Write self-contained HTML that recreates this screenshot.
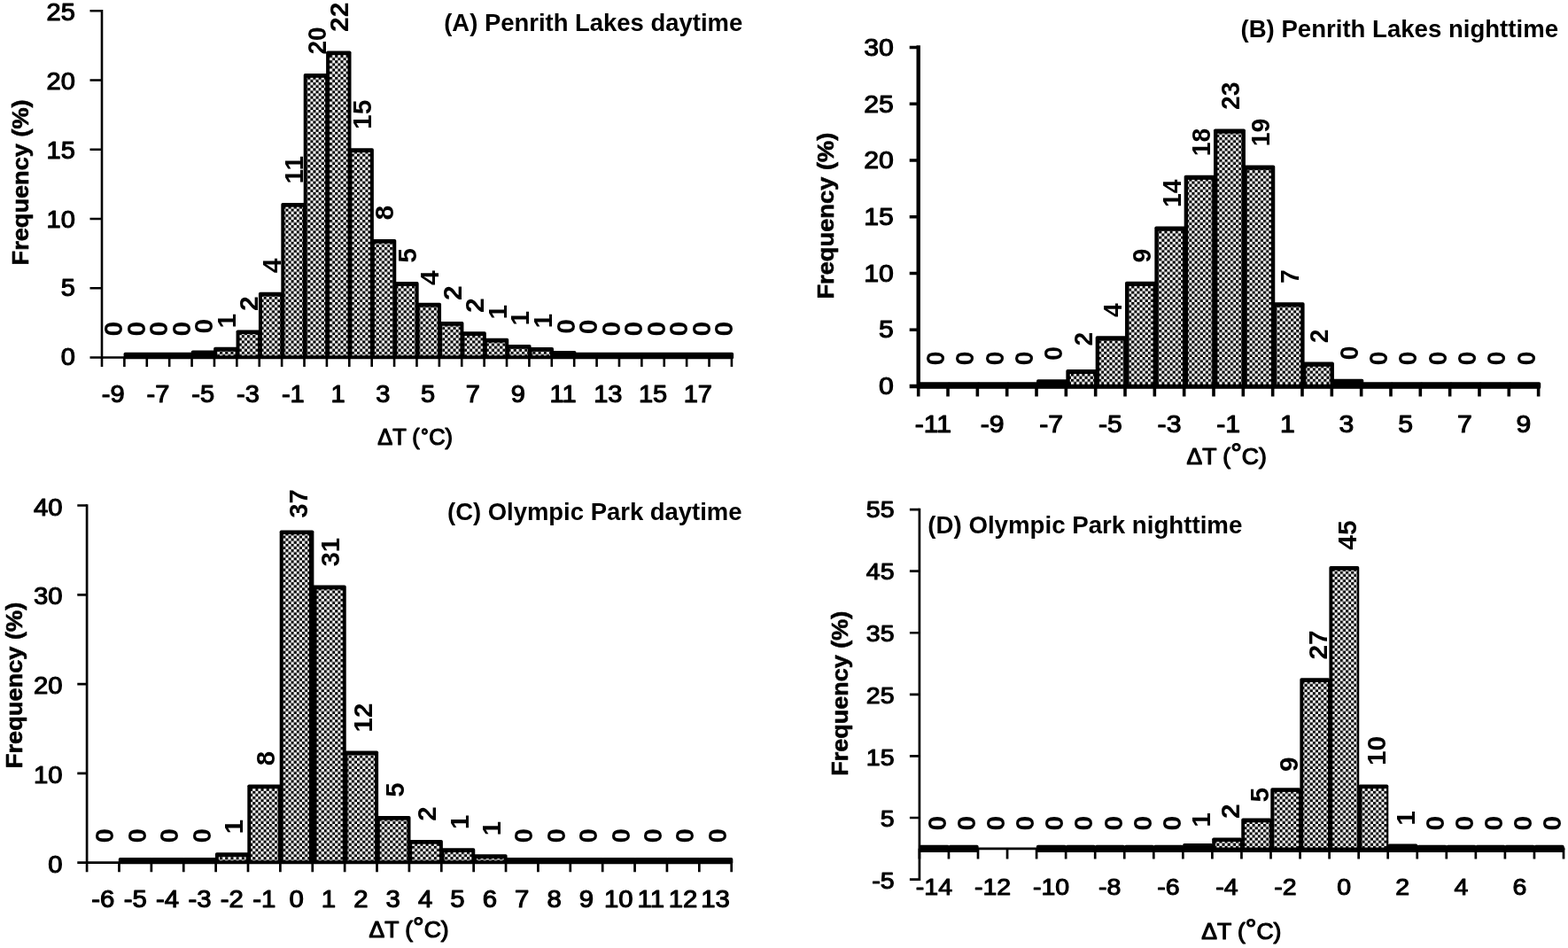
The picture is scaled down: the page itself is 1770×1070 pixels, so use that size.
<!DOCTYPE html>
<html lang="en"><head><meta charset="utf-8"><title>Frequency distributions of ΔT</title>
<style>html,body{margin:0;padding:0;background:#fff}body{width:1770px;height:1070px;overflow:hidden}svg{display:block}text{font-family:"Liberation Sans", sans-serif;fill:#000;stroke:#000;stroke-linejoin:round}.t{font-weight:400;font-size:27.4px;stroke-width:1.1px}.d{font-weight:700;font-size:28.6px;stroke:none}.h{font-weight:700;font-size:27.3px;stroke:none}.x{font-weight:400;font-size:25px;stroke-width:1.15px}.y{font-weight:700;font-size:26.4px;stroke-width:.6px}</style>
</head><body>
<svg width="1770" height="1070" viewBox="0 0 1770 1070">
<defs><pattern id="chk" patternUnits="userSpaceOnUse" x="0" y="0" width="6.2" height="6.2"><rect width="6.2" height="6.2" fill="#fff"/><rect width="3.1" height="3.1" fill="#000"/><rect x="3.1" y="3.1" width="3.1" height="3.1" fill="#000"/></pattern></defs>
<rect width="1770" height="1070" fill="#fff"/>
<g>
<rect x="139.59" y="397.7" width="28.39" height="7.6" rx="1.8" fill="#000"/>
<rect x="164.98" y="397.7" width="28.39" height="7.6" rx="1.8" fill="#000"/>
<rect x="190.37" y="397.7" width="28.39" height="7.6" rx="1.8" fill="#000"/>
<rect x="215.76" y="395.6" width="28.39" height="9.7" rx="1.8" fill="#000"/>
<rect x="241.15" y="391.8" width="28.39" height="13.5" rx="1.8" fill="#000"/>
<rect x="245.15" y="396.6" width="20.39" height="4.7" fill="url(#chk)"/>
<rect x="266.54" y="372.4" width="28.39" height="32.9" rx="1.8" fill="#000"/>
<rect x="270.54" y="377.2" width="20.39" height="24.1" fill="url(#chk)"/>
<rect x="291.93" y="329.7" width="28.39" height="75.6" rx="1.8" fill="#000"/>
<rect x="295.93" y="334.5" width="20.39" height="66.8" fill="url(#chk)"/>
<rect x="317.32" y="228.9" width="28.39" height="176.4" rx="1.8" fill="#000"/>
<rect x="321.32" y="233.7" width="20.39" height="167.6" fill="url(#chk)"/>
<rect x="342.71" y="83" width="28.39" height="322.3" rx="1.8" fill="#000"/>
<rect x="346.71" y="87.8" width="20.39" height="313.5" fill="url(#chk)"/>
<rect x="368.1" y="57.4" width="28.39" height="347.9" rx="1.8" fill="#000"/>
<rect x="372.1" y="62.2" width="20.39" height="339.1" fill="url(#chk)"/>
<rect x="393.49" y="167.3" width="28.39" height="238" rx="1.8" fill="#000"/>
<rect x="397.49" y="172.1" width="20.39" height="229.2" fill="url(#chk)"/>
<rect x="418.88" y="269.9" width="28.39" height="135.4" rx="1.8" fill="#000"/>
<rect x="422.88" y="274.7" width="20.39" height="126.6" fill="url(#chk)"/>
<rect x="444.27" y="318.1" width="28.39" height="87.2" rx="1.8" fill="#000"/>
<rect x="448.27" y="322.9" width="20.39" height="78.4" fill="url(#chk)"/>
<rect x="469.66" y="341.8" width="28.39" height="63.5" rx="1.8" fill="#000"/>
<rect x="473.66" y="346.6" width="20.39" height="54.7" fill="url(#chk)"/>
<rect x="495.05" y="363" width="28.39" height="42.3" rx="1.8" fill="#000"/>
<rect x="499.05" y="367.8" width="20.39" height="33.5" fill="url(#chk)"/>
<rect x="520.44" y="374.3" width="28.39" height="31" rx="1.8" fill="#000"/>
<rect x="524.44" y="379.1" width="20.39" height="22.2" fill="url(#chk)"/>
<rect x="545.83" y="381.8" width="28.39" height="23.5" rx="1.8" fill="#000"/>
<rect x="549.83" y="386.6" width="20.39" height="14.7" fill="url(#chk)"/>
<rect x="571.22" y="388.9" width="28.39" height="16.4" rx="1.8" fill="#000"/>
<rect x="575.22" y="393.7" width="20.39" height="7.6" fill="url(#chk)"/>
<rect x="596.61" y="392" width="28.39" height="13.3" rx="1.8" fill="#000"/>
<rect x="600.61" y="396.8" width="20.39" height="4.5" fill="url(#chk)"/>
<rect x="622" y="396" width="28.39" height="9.3" rx="1.8" fill="#000"/>
<rect x="647.39" y="397.7" width="28.39" height="7.6" rx="1.8" fill="#000"/>
<rect x="672.78" y="397.7" width="28.39" height="7.6" rx="1.8" fill="#000"/>
<rect x="698.17" y="397.7" width="28.39" height="7.6" rx="1.8" fill="#000"/>
<rect x="723.56" y="397.7" width="28.39" height="7.6" rx="1.8" fill="#000"/>
<rect x="748.95" y="397.7" width="28.39" height="7.6" rx="1.8" fill="#000"/>
<rect x="774.34" y="397.7" width="28.39" height="7.6" rx="1.8" fill="#000"/>
<rect x="799.73" y="397.7" width="28.39" height="7.6" rx="1.8" fill="#000"/>
<path d="M115 12.3V403.5" stroke="#000" stroke-width="2.6" fill="none" stroke-linecap="square"/>
<path d="M101.5 403.5H827.22" stroke="#000" stroke-width="2.6" fill="none"/>
<path d="M101.5 325.26H115M101.5 247.02H115M101.5 168.78H115M101.5 90.54H115M101.5 12.3H115M115 403.5V414M140.39 403.5V414M165.78 403.5V414M191.17 403.5V414M216.56 403.5V414M241.95 403.5V414M267.34 403.5V414M292.73 403.5V414M318.12 403.5V414M343.51 403.5V414M368.9 403.5V414M394.29 403.5V414M419.68 403.5V414M445.07 403.5V414M470.46 403.5V414M495.85 403.5V414M521.24 403.5V414M546.63 403.5V414M572.02 403.5V414M597.41 403.5V414M622.8 403.5V414M648.19 403.5V414M673.58 403.5V414M698.97 403.5V414M724.36 403.5V414M749.75 403.5V414M775.14 403.5V414M800.53 403.5V414M825.92 403.5V414" stroke="#000" stroke-width="2.6" fill="none"/>
<text class="t" transform="translate(84.9 412.3) scale(1.06 1)" text-anchor="end">0</text>
<text class="t" transform="translate(84.9 334.48) scale(1.06 1)" text-anchor="end">5</text>
<text class="t" transform="translate(84.9 256.66) scale(1.06 1)" text-anchor="end">10</text>
<text class="t" transform="translate(84.9 178.84) scale(1.06 1)" text-anchor="end">15</text>
<text class="t" transform="translate(84.9 101.02) scale(1.06 1)" text-anchor="end">20</text>
<text class="t" transform="translate(84.9 23.2) scale(1.06 1)" text-anchor="end">25</text>
<text class="t" transform="translate(127.69 454.3) scale(1.06 1)" text-anchor="middle">-9</text>
<text class="t" transform="translate(178.47 454.3) scale(1.06 1)" text-anchor="middle">-7</text>
<text class="t" transform="translate(229.25 454.3) scale(1.06 1)" text-anchor="middle">-5</text>
<text class="t" transform="translate(280.03 454.3) scale(1.06 1)" text-anchor="middle">-3</text>
<text class="t" transform="translate(330.81 454.3) scale(1.06 1)" text-anchor="middle">-1</text>
<text class="t" transform="translate(381.6 454.3) scale(1.06 1)" text-anchor="middle">1</text>
<text class="t" transform="translate(432.38 454.3) scale(1.06 1)" text-anchor="middle">3</text>
<text class="t" transform="translate(483.16 454.3) scale(1.06 1)" text-anchor="middle">5</text>
<text class="t" transform="translate(533.93 454.3) scale(1.06 1)" text-anchor="middle">7</text>
<text class="t" transform="translate(584.72 454.3) scale(1.06 1)" text-anchor="middle">9</text>
<text class="t" transform="translate(635.5 454.3) scale(1.06 1)" text-anchor="middle">11</text>
<text class="t" transform="translate(686.27 454.3) scale(1.06 1)" text-anchor="middle">13</text>
<text class="t" transform="translate(737.06 454.3) scale(1.06 1)" text-anchor="middle">15</text>
<text class="t" transform="translate(787.84 454.3) scale(1.06 1)" text-anchor="middle">17</text>
<text class="d" transform="translate(138.29 379.6) rotate(-90) scale(1.05 1)">0</text>
<text class="d" transform="translate(163.81 379.6) rotate(-90) scale(1.05 1)">0</text>
<text class="d" transform="translate(189.31 379.6) rotate(-90) scale(1.05 1)">0</text>
<text class="d" transform="translate(214.83 379.6) rotate(-90) scale(1.05 1)">0</text>
<text class="d" transform="translate(240.33 376.4) rotate(-90) scale(1.05 1)">0</text>
<text class="d" transform="translate(265.85 370.4) rotate(-90) scale(1.05 1)">1</text>
<text class="d" transform="translate(291.36 351) rotate(-90) scale(1.05 1)">2</text>
<text class="d" transform="translate(316.87 308.3) rotate(-90) scale(1.05 1)">4</text>
<text class="d" transform="translate(342.38 207.5) rotate(-90) scale(1.05 1)">11</text>
<text class="d" transform="translate(367.89 61.6) rotate(-90) scale(0.98 1)">20</text>
<text class="d" transform="translate(393.4 36) rotate(-90) scale(1.05 1)">22</text>
<text class="d" transform="translate(418.91 145.9) rotate(-90) scale(1.05 1)">15</text>
<text class="d" transform="translate(444.42 248.5) rotate(-90) scale(1.05 1)">8</text>
<text class="d" transform="translate(469.93 296.7) rotate(-90) scale(1.05 1)">5</text>
<text class="d" transform="translate(495.44 321.9) rotate(-90) scale(1.05 1)">4</text>
<text class="d" transform="translate(520.94 339.1) rotate(-90) scale(1.05 1)">2</text>
<text class="d" transform="translate(546.45 352.9) rotate(-90) scale(1.05 1)">2</text>
<text class="d" transform="translate(571.97 360.4) rotate(-90) scale(1.05 1)">1</text>
<text class="d" transform="translate(597.48 367.5) rotate(-90) scale(1.05 1)">1</text>
<text class="d" transform="translate(622.99 370.6) rotate(-90) scale(1.05 1)">1</text>
<text class="d" transform="translate(648.5 376.8) rotate(-90) scale(1.05 1)">0</text>
<text class="d" transform="translate(674 377.3) rotate(-90) scale(1.05 1)">0</text>
<text class="d" transform="translate(699.51 379.6) rotate(-90) scale(1.05 1)">0</text>
<text class="d" transform="translate(725.02 379.6) rotate(-90) scale(1.05 1)">0</text>
<text class="d" transform="translate(750.54 379.6) rotate(-90) scale(1.05 1)">0</text>
<text class="d" transform="translate(776.05 379.6) rotate(-90) scale(1.05 1)">0</text>
<text class="d" transform="translate(801.56 379.6) rotate(-90) scale(1.05 1)">0</text>
<text class="d" transform="translate(827.07 379.6) rotate(-90) scale(1.05 1)">0</text>
<text class="h" transform="translate(501.2 35)" textLength="337" lengthAdjust="spacingAndGlyphs">(A) Penrith Lakes daytime</text>
<text class="x" transform="translate(426.3 502.2)" textLength="84.7" lengthAdjust="spacingAndGlyphs">ΔT (<tspan dx="2" dy="2.7">˚</tspan><tspan dy="-2.7">C)</tspan></text>
<text class="y" transform="translate(32.1 299.4) rotate(-90)" textLength="187" lengthAdjust="spacingAndGlyphs">Frequency (%)</text>
</g>
<g>
<rect x="1036.7" y="431.2" width="35.93" height="7.6" rx="1.8" fill="#000"/>
<rect x="1070.03" y="431.2" width="35.93" height="7.6" rx="1.8" fill="#000"/>
<rect x="1103.36" y="431.2" width="35.93" height="7.6" rx="1.8" fill="#000"/>
<rect x="1136.69" y="431.2" width="35.93" height="7.6" rx="1.8" fill="#000"/>
<rect x="1170.02" y="428.2" width="35.93" height="10.6" rx="1.8" fill="#000"/>
<rect x="1203.35" y="416.9" width="35.93" height="21.9" rx="1.8" fill="#000"/>
<rect x="1207.75" y="422.1" width="27.13" height="12.3" fill="url(#chk)"/>
<rect x="1236.68" y="379.3" width="35.93" height="59.5" rx="1.8" fill="#000"/>
<rect x="1241.08" y="384.5" width="27.13" height="49.9" fill="url(#chk)"/>
<rect x="1270.01" y="317.8" width="35.93" height="121" rx="1.8" fill="#000"/>
<rect x="1274.41" y="323" width="27.13" height="111.4" fill="url(#chk)"/>
<rect x="1303.34" y="255.5" width="35.93" height="183.3" rx="1.8" fill="#000"/>
<rect x="1307.74" y="260.7" width="27.13" height="173.7" fill="url(#chk)"/>
<rect x="1336.67" y="197.7" width="35.93" height="241.1" rx="1.8" fill="#000"/>
<rect x="1341.07" y="202.9" width="27.13" height="231.5" fill="url(#chk)"/>
<rect x="1370" y="145.5" width="35.93" height="293.3" rx="1.8" fill="#000"/>
<rect x="1374.4" y="150.7" width="27.13" height="283.7" fill="url(#chk)"/>
<rect x="1403.33" y="186.6" width="35.93" height="252.2" rx="1.8" fill="#000"/>
<rect x="1407.73" y="191.8" width="27.13" height="242.6" fill="url(#chk)"/>
<rect x="1436.66" y="341.3" width="35.93" height="97.5" rx="1.8" fill="#000"/>
<rect x="1441.06" y="346.5" width="27.13" height="87.9" fill="url(#chk)"/>
<rect x="1469.99" y="408.6" width="35.93" height="30.2" rx="1.8" fill="#000"/>
<rect x="1474.39" y="413.8" width="27.13" height="20.6" fill="url(#chk)"/>
<rect x="1503.32" y="427.7" width="35.93" height="11.1" rx="1.8" fill="#000"/>
<rect x="1536.65" y="431.2" width="35.93" height="7.6" rx="1.8" fill="#000"/>
<rect x="1569.98" y="431.2" width="35.93" height="7.6" rx="1.8" fill="#000"/>
<rect x="1603.31" y="431.2" width="35.93" height="7.6" rx="1.8" fill="#000"/>
<rect x="1636.64" y="431.2" width="35.93" height="7.6" rx="1.8" fill="#000"/>
<rect x="1669.97" y="431.2" width="35.93" height="7.6" rx="1.8" fill="#000"/>
<rect x="1703.3" y="431.2" width="35.93" height="7.6" rx="1.8" fill="#000"/>
<path d="M1036.7 53.5V436" stroke="#000" stroke-width="4.4" fill="none" stroke-linecap="square"/>
<path d="M1026.7 436H1738.83" stroke="#000" stroke-width="4.4" fill="none"/>
<path d="M1026.7 372.25H1036.7M1026.7 308.5H1036.7M1026.7 244.75H1036.7M1026.7 181H1036.7M1026.7 117.25H1036.7M1026.7 53.5H1036.7M1036.7 436V447.5M1070.03 436V447.5M1103.36 436V447.5M1136.69 436V447.5M1170.02 436V447.5M1203.35 436V447.5M1236.68 436V447.5M1270.01 436V447.5M1303.34 436V447.5M1336.67 436V447.5M1370 436V447.5M1403.33 436V447.5M1436.66 436V447.5M1469.99 436V447.5M1503.32 436V447.5M1536.65 436V447.5M1569.98 436V447.5M1603.31 436V447.5M1636.64 436V447.5M1669.97 436V447.5M1703.3 436V447.5M1736.63 436V447.5" stroke="#000" stroke-width="3.6" fill="none"/>
<text class="t" transform="translate(1008.8 445) scale(1.1 1)" text-anchor="end">0</text>
<text class="t" transform="translate(1008.8 381.37) scale(1.1 1)" text-anchor="end">5</text>
<text class="t" transform="translate(1008.8 317.73) scale(1.1 1)" text-anchor="end">10</text>
<text class="t" transform="translate(1008.8 254.1) scale(1.1 1)" text-anchor="end">15</text>
<text class="t" transform="translate(1008.8 190.47) scale(1.1 1)" text-anchor="end">20</text>
<text class="t" transform="translate(1008.8 126.83) scale(1.1 1)" text-anchor="end">25</text>
<text class="t" transform="translate(1008.8 63.2) scale(1.1 1)" text-anchor="end">30</text>
<text class="t" transform="translate(1053.37 487.8) scale(1.1 1)" text-anchor="middle">-11</text>
<text class="t" transform="translate(1120.03 487.8) scale(1.1 1)" text-anchor="middle">-9</text>
<text class="t" transform="translate(1186.68 487.8) scale(1.1 1)" text-anchor="middle">-7</text>
<text class="t" transform="translate(1253.35 487.8) scale(1.1 1)" text-anchor="middle">-5</text>
<text class="t" transform="translate(1320.01 487.8) scale(1.1 1)" text-anchor="middle">-3</text>
<text class="t" transform="translate(1386.66 487.8) scale(1.1 1)" text-anchor="middle">-1</text>
<text class="t" transform="translate(1453.33 487.8) scale(1.1 1)" text-anchor="middle">1</text>
<text class="t" transform="translate(1519.99 487.8) scale(1.1 1)" text-anchor="middle">3</text>
<text class="t" transform="translate(1586.64 487.8) scale(1.1 1)" text-anchor="middle">5</text>
<text class="t" transform="translate(1653.31 487.8) scale(1.1 1)" text-anchor="middle">7</text>
<text class="t" transform="translate(1719.97 487.8) scale(1.1 1)" text-anchor="middle">9</text>
<text class="d" transform="translate(1066.16 412.2) rotate(-90) scale(0.99 1)">0</text>
<text class="d" transform="translate(1099.49 412.2) rotate(-90) scale(0.99 1)">0</text>
<text class="d" transform="translate(1132.83 412.2) rotate(-90) scale(0.99 1)">0</text>
<text class="d" transform="translate(1166.15 412.2) rotate(-90) scale(0.99 1)">0</text>
<text class="d" transform="translate(1199.48 406.8) rotate(-90) scale(0.99 1)">0</text>
<text class="d" transform="translate(1232.82 390.5) rotate(-90) scale(0.99 1)">2</text>
<text class="d" transform="translate(1266.14 357.9) rotate(-90) scale(0.99 1)">4</text>
<text class="d" transform="translate(1299.47 296.4) rotate(-90) scale(0.99 1)">9</text>
<text class="d" transform="translate(1332.81 234.1) rotate(-90) scale(0.99 1)">14</text>
<text class="d" transform="translate(1366.13 176.3) rotate(-90) scale(0.99 1)">18</text>
<text class="d" transform="translate(1399.46 124.1) rotate(-90) scale(0.99 1)">23</text>
<text class="d" transform="translate(1432.79 165.2) rotate(-90) scale(0.99 1)">19</text>
<text class="d" transform="translate(1466.12 319.9) rotate(-90) scale(0.99 1)">7</text>
<text class="d" transform="translate(1499.45 387.2) rotate(-90) scale(0.99 1)">2</text>
<text class="d" transform="translate(1532.79 406.3) rotate(-90) scale(0.99 1)">0</text>
<text class="d" transform="translate(1566.12 412.2) rotate(-90) scale(0.99 1)">0</text>
<text class="d" transform="translate(1599.44 412.2) rotate(-90) scale(0.99 1)">0</text>
<text class="d" transform="translate(1632.77 412.2) rotate(-90) scale(0.99 1)">0</text>
<text class="d" transform="translate(1666.11 412.2) rotate(-90) scale(0.99 1)">0</text>
<text class="d" transform="translate(1699.43 412.2) rotate(-90) scale(0.99 1)">0</text>
<text class="d" transform="translate(1732.77 412.2) rotate(-90) scale(0.99 1)">0</text>
<text class="h" transform="translate(1400.5 41.6) scale(1 1.03)" textLength="358.5" lengthAdjust="spacingAndGlyphs">(B) Penrith Lakes nighttime</text>
<text class="x" transform="translate(1339.6 523.6)" textLength="90.2" lengthAdjust="spacingAndGlyphs">ΔT (<tspan dy="-2.5" font-size="30">°</tspan><tspan dy="2.5">C)</tspan></text>
<text class="y" transform="translate(941 337.6) rotate(-90)" textLength="188" lengthAdjust="spacingAndGlyphs">Frequency (%)</text>
</g>
<g>
<rect x="133.78" y="968" width="38.68" height="7.3" rx="1.8" fill="#000"/>
<rect x="170.16" y="968" width="38.68" height="7.3" rx="1.8" fill="#000"/>
<rect x="206.54" y="968" width="38.68" height="7.3" rx="1.8" fill="#000"/>
<rect x="242.92" y="962.3" width="38.68" height="13" rx="1.8" fill="#000"/>
<rect x="246.92" y="967.1" width="30.68" height="4.2" fill="url(#chk)"/>
<rect x="279.3" y="885.4" width="38.68" height="89.9" rx="1.8" fill="#000"/>
<rect x="283.3" y="890.2" width="30.68" height="81.1" fill="url(#chk)"/>
<rect x="315.68" y="598.4" width="38.68" height="376.9" rx="1.8" fill="#000"/>
<rect x="319.68" y="603.2" width="29.18" height="368.1" fill="url(#chk)"/>
<rect x="352.06" y="660.6" width="38.68" height="314.7" rx="1.8" fill="#000"/>
<rect x="357.56" y="665.4" width="29.18" height="305.9" fill="url(#chk)"/>
<rect x="388.44" y="847.5" width="38.68" height="127.8" rx="1.8" fill="#000"/>
<rect x="392.44" y="852.3" width="30.68" height="119" fill="url(#chk)"/>
<rect x="424.82" y="920.9" width="38.68" height="54.4" rx="1.8" fill="#000"/>
<rect x="428.82" y="925.7" width="30.68" height="45.6" fill="url(#chk)"/>
<rect x="461.2" y="947.9" width="38.68" height="27.4" rx="1.8" fill="#000"/>
<rect x="465.2" y="952.7" width="30.68" height="18.6" fill="url(#chk)"/>
<rect x="497.58" y="957.2" width="38.68" height="18.1" rx="1.8" fill="#000"/>
<rect x="501.58" y="962" width="30.68" height="9.3" fill="url(#chk)"/>
<rect x="533.96" y="964.3" width="38.68" height="11" rx="1.8" fill="#000"/>
<rect x="537.96" y="969.1" width="30.68" height="2.2" fill="url(#chk)"/>
<rect x="570.34" y="968" width="38.68" height="7.3" rx="1.8" fill="#000"/>
<rect x="606.72" y="968" width="38.68" height="7.3" rx="1.8" fill="#000"/>
<rect x="643.1" y="968" width="38.68" height="7.3" rx="1.8" fill="#000"/>
<rect x="679.48" y="968" width="38.68" height="7.3" rx="1.8" fill="#000"/>
<rect x="715.86" y="968" width="38.68" height="7.3" rx="1.8" fill="#000"/>
<rect x="752.24" y="968" width="38.68" height="7.3" rx="1.8" fill="#000"/>
<rect x="788.62" y="968" width="38.68" height="7.3" rx="1.8" fill="#000"/>
<path d="M98.1 570.5V973.7" stroke="#000" stroke-width="2.7" fill="none" stroke-linecap="square"/>
<path d="M87.3 973.7H827.05" stroke="#000" stroke-width="2.7" fill="none"/>
<path d="M87.3 872.9H98.1M87.3 772.1H98.1M87.3 671.3H98.1M87.3 570.5H98.1M98.1 973.7V984.2M134.48 973.7V984.2M170.86 973.7V984.2M207.24 973.7V984.2M243.62 973.7V984.2M280 973.7V984.2M316.38 973.7V984.2M352.76 973.7V984.2M389.14 973.7V984.2M425.52 973.7V984.2M461.9 973.7V984.2M498.28 973.7V984.2M534.66 973.7V984.2M571.04 973.7V984.2M607.42 973.7V984.2M643.8 973.7V984.2M680.18 973.7V984.2M716.56 973.7V984.2M752.94 973.7V984.2M789.32 973.7V984.2M825.7 973.7V984.2" stroke="#000" stroke-width="2.7" fill="none"/>
<text class="t" transform="translate(70.6 984.7) scale(1.07 0.98)" text-anchor="end">0</text>
<text class="t" transform="translate(70.6 883.9) scale(1.07 0.98)" text-anchor="end">10</text>
<text class="t" transform="translate(70.6 783.1) scale(1.07 0.98)" text-anchor="end">20</text>
<text class="t" transform="translate(70.6 682.3) scale(1.07 0.98)" text-anchor="end">30</text>
<text class="t" transform="translate(70.6 581.5) scale(1.07 0.98)" text-anchor="end">40</text>
<text class="t" transform="translate(116.29 1024.3) scale(1.07 0.98)" text-anchor="middle">-6</text>
<text class="t" transform="translate(152.67 1024.3) scale(1.07 0.98)" text-anchor="middle">-5</text>
<text class="t" transform="translate(189.05 1024.3) scale(1.07 0.98)" text-anchor="middle">-4</text>
<text class="t" transform="translate(225.43 1024.3) scale(1.07 0.98)" text-anchor="middle">-3</text>
<text class="t" transform="translate(261.81 1024.3) scale(1.07 0.98)" text-anchor="middle">-2</text>
<text class="t" transform="translate(298.19 1024.3) scale(1.07 0.98)" text-anchor="middle">-1</text>
<text class="t" transform="translate(334.57 1024.3) scale(1.07 0.98)" text-anchor="middle">0</text>
<text class="t" transform="translate(370.95 1024.3) scale(1.07 0.98)" text-anchor="middle">1</text>
<text class="t" transform="translate(407.33 1024.3) scale(1.07 0.98)" text-anchor="middle">2</text>
<text class="t" transform="translate(443.71 1024.3) scale(1.07 0.98)" text-anchor="middle">3</text>
<text class="t" transform="translate(480.09 1024.3) scale(1.07 0.98)" text-anchor="middle">4</text>
<text class="t" transform="translate(516.47 1024.3) scale(1.07 0.98)" text-anchor="middle">5</text>
<text class="t" transform="translate(552.85 1024.3) scale(1.07 0.98)" text-anchor="middle">6</text>
<text class="t" transform="translate(589.23 1024.3) scale(1.07 0.98)" text-anchor="middle">7</text>
<text class="t" transform="translate(625.61 1024.3) scale(1.07 0.98)" text-anchor="middle">8</text>
<text class="t" transform="translate(661.99 1024.3) scale(1.07 0.98)" text-anchor="middle">9</text>
<text class="t" transform="translate(698.37 1024.3) scale(1.07 0.98)" text-anchor="middle">10</text>
<text class="t" transform="translate(734.75 1024.3) scale(1.07 0.98)" text-anchor="middle">11</text>
<text class="t" transform="translate(771.13 1024.3) scale(1.07 0.98)" text-anchor="middle">12</text>
<text class="t" transform="translate(807.51 1024.3) scale(1.07 0.98)" text-anchor="middle">13</text>
<text class="d" transform="translate(128.49 951.6) rotate(-90) scale(1.03 1)">0</text>
<text class="d" transform="translate(164.87 951.6) rotate(-90) scale(1.03 1)">0</text>
<text class="d" transform="translate(201.25 951.6) rotate(-90) scale(1.03 1)">0</text>
<text class="d" transform="translate(237.63 951.6) rotate(-90) scale(1.03 1)">0</text>
<text class="d" transform="translate(274.01 941.2) rotate(-90) scale(1.03 1)">1</text>
<text class="d" transform="translate(310.39 864.3) rotate(-90) scale(1.03 1)">8</text>
<text class="d" transform="translate(346.77 584.8) rotate(-90) scale(1.03 1)">37</text>
<text class="d" transform="translate(383.15 639.5) rotate(-90) scale(1.03 1)">31</text>
<text class="d" transform="translate(419.53 826.4) rotate(-90) scale(1.03 1)">12</text>
<text class="d" transform="translate(455.91 899.8) rotate(-90) scale(1.03 1)">5</text>
<text class="d" transform="translate(492.29 926.8) rotate(-90) scale(1.03 1)">2</text>
<text class="d" transform="translate(528.67 936.1) rotate(-90) scale(1.03 1)">1</text>
<text class="d" transform="translate(565.05 943.2) rotate(-90) scale(1.03 1)">1</text>
<text class="d" transform="translate(601.43 951.6) rotate(-90) scale(1.03 1)">0</text>
<text class="d" transform="translate(637.81 951.6) rotate(-90) scale(1.03 1)">0</text>
<text class="d" transform="translate(674.19 951.6) rotate(-90) scale(1.03 1)">0</text>
<text class="d" transform="translate(710.57 951.6) rotate(-90) scale(1.03 1)">0</text>
<text class="d" transform="translate(746.95 951.6) rotate(-90) scale(1.03 1)">0</text>
<text class="d" transform="translate(783.33 951.6) rotate(-90) scale(1.03 1)">0</text>
<text class="d" transform="translate(819.71 951.6) rotate(-90) scale(1.03 1)">0</text>
<text class="h" transform="translate(505 587.4)" textLength="332.5" lengthAdjust="spacingAndGlyphs">(C) Olympic Park daytime</text>
<text class="x" transform="translate(416.5 1058.2)" textLength="90.2" lengthAdjust="spacingAndGlyphs">ΔT (<tspan dy="-2.5" font-size="30">°</tspan><tspan dy="2.5">C)</tspan></text>
<text class="y" transform="translate(24.6 867.2) rotate(-90)" textLength="187.6" lengthAdjust="spacingAndGlyphs">Frequency (%)</text>
</g>
<g>
<rect x="1037.7" y="953.7" width="33.85" height="8.2" rx="1.8" fill="#000"/>
<rect x="1070.75" y="953.7" width="33.85" height="8.2" rx="1.8" fill="#000"/>
<rect x="1169.9" y="953.7" width="33.85" height="8.2" rx="1.8" fill="#000"/>
<rect x="1202.95" y="953.7" width="33.85" height="8.2" rx="1.8" fill="#000"/>
<rect x="1236" y="953.7" width="33.85" height="8.2" rx="1.8" fill="#000"/>
<rect x="1269.05" y="953.7" width="33.85" height="8.2" rx="1.8" fill="#000"/>
<rect x="1302.1" y="953.7" width="33.85" height="8.2" rx="1.8" fill="#000"/>
<rect x="1335.15" y="952" width="33.85" height="9.9" rx="1.8" fill="#000"/>
<rect x="1368.2" y="945.4" width="33.85" height="16.5" rx="1.8" fill="#000"/>
<rect x="1372.1" y="950.1" width="27.75" height="7.9" fill="url(#chk)"/>
<rect x="1401.25" y="923.6" width="33.85" height="38.3" rx="1.8" fill="#000"/>
<rect x="1405.15" y="928.3" width="27.75" height="29.7" fill="url(#chk)"/>
<rect x="1434.3" y="889.2" width="33.85" height="72.7" rx="1.8" fill="#000"/>
<rect x="1438.2" y="893.9" width="27.75" height="64.1" fill="url(#chk)"/>
<rect x="1467.35" y="765.3" width="33.85" height="196.6" rx="1.8" fill="#000"/>
<rect x="1471.25" y="770" width="27.75" height="188" fill="url(#chk)"/>
<rect x="1500.4" y="639" width="33.85" height="322.9" rx="1.8" fill="#000"/>
<rect x="1504.3" y="643.7" width="27.75" height="314.3" fill="url(#chk)"/>
<rect x="1533.45" y="885.4" width="33.85" height="76.5" rx="1.8" fill="#000"/>
<rect x="1537.35" y="890.1" width="27.75" height="67.9" fill="url(#chk)"/>
<rect x="1566.5" y="952.4" width="33.85" height="9.5" rx="1.8" fill="#000"/>
<rect x="1599.55" y="953.7" width="33.85" height="8.2" rx="1.8" fill="#000"/>
<rect x="1632.6" y="953.7" width="33.85" height="8.2" rx="1.8" fill="#000"/>
<rect x="1665.65" y="953.7" width="33.85" height="8.2" rx="1.8" fill="#000"/>
<rect x="1698.7" y="953.7" width="33.85" height="8.2" rx="1.8" fill="#000"/>
<rect x="1731.75" y="953.7" width="33.85" height="8.2" rx="1.8" fill="#000"/>
<path d="M1037.9 575.11V992.59" stroke="#000" stroke-width="2.7" fill="none" stroke-linecap="square"/>
<path d="M1037.9 957.8H1766.35" stroke="#000" stroke-width="2.7" fill="none"/>
<path d="M1026.9 992.59H1037.9M1026.9 923.01H1037.9M1026.9 853.43H1037.9M1026.9 783.85H1037.9M1026.9 714.27H1037.9M1026.9 644.69H1037.9M1026.9 575.11H1037.9M1037.9 957.8V969.5M1070.95 957.8V969.5M1104 957.8V969.5M1137.05 957.8V969.5M1170.1 957.8V969.5M1203.15 957.8V969.5M1236.2 957.8V969.5M1269.25 957.8V969.5M1302.3 957.8V969.5M1335.35 957.8V969.5M1368.4 957.8V969.5M1401.45 957.8V969.5M1434.5 957.8V969.5M1467.55 957.8V969.5M1500.6 957.8V969.5M1533.65 957.8V969.5M1566.7 957.8V969.5M1599.75 957.8V969.5M1632.8 957.8V969.5M1665.85 957.8V969.5M1698.9 957.8V969.5M1731.95 957.8V969.5M1765 957.8V969.5" stroke="#000" stroke-width="2.7" fill="none"/>
<text class="t" transform="translate(1009.5 1003.39) scale(1.04 0.97)" text-anchor="end">-5</text>
<text class="t" transform="translate(1009.5 933.46) scale(1.04 0.97)" text-anchor="end">5</text>
<text class="t" transform="translate(1009.5 863.53) scale(1.04 0.97)" text-anchor="end">15</text>
<text class="t" transform="translate(1009.5 793.6) scale(1.04 0.97)" text-anchor="end">25</text>
<text class="t" transform="translate(1009.5 723.67) scale(1.04 0.97)" text-anchor="end">35</text>
<text class="t" transform="translate(1009.5 653.74) scale(1.04 0.97)" text-anchor="end">45</text>
<text class="t" transform="translate(1009.5 583.81) scale(1.04 0.97)" text-anchor="end">55</text>
<text class="t" transform="translate(1054.43 1009.8) scale(1.04 0.97)" text-anchor="middle">-14</text>
<text class="t" transform="translate(1120.53 1009.8) scale(1.04 0.97)" text-anchor="middle">-12</text>
<text class="t" transform="translate(1186.62 1009.8) scale(1.04 0.97)" text-anchor="middle">-10</text>
<text class="t" transform="translate(1252.73 1009.8) scale(1.04 0.97)" text-anchor="middle">-8</text>
<text class="t" transform="translate(1318.83 1009.8) scale(1.04 0.97)" text-anchor="middle">-6</text>
<text class="t" transform="translate(1384.93 1009.8) scale(1.04 0.97)" text-anchor="middle">-4</text>
<text class="t" transform="translate(1451.03 1009.8) scale(1.04 0.97)" text-anchor="middle">-2</text>
<text class="t" transform="translate(1517.12 1009.8) scale(1.04 0.97)" text-anchor="middle">0</text>
<text class="t" transform="translate(1583.22 1009.8) scale(1.04 0.97)" text-anchor="middle">2</text>
<text class="t" transform="translate(1649.33 1009.8) scale(1.04 0.97)" text-anchor="middle">4</text>
<text class="t" transform="translate(1715.43 1009.8) scale(1.04 0.97)" text-anchor="middle">6</text>
<text class="d" transform="translate(1068.23 937.6) rotate(-90) scale(1.05 1)">0</text>
<text class="d" transform="translate(1101.28 937.6) rotate(-90) scale(1.05 1)">0</text>
<text class="d" transform="translate(1134.33 937.6) rotate(-90) scale(1.05 1)">0</text>
<text class="d" transform="translate(1167.38 937.6) rotate(-90) scale(1.05 1)">0</text>
<text class="d" transform="translate(1200.42 937.6) rotate(-90) scale(1.05 1)">0</text>
<text class="d" transform="translate(1233.48 937.6) rotate(-90) scale(1.05 1)">0</text>
<text class="d" transform="translate(1266.53 937.6) rotate(-90) scale(1.05 1)">0</text>
<text class="d" transform="translate(1299.58 937.6) rotate(-90) scale(1.05 1)">0</text>
<text class="d" transform="translate(1332.62 937.6) rotate(-90) scale(1.05 1)">0</text>
<text class="d" transform="translate(1365.67 933.8) rotate(-90) scale(1.05 1)">1</text>
<text class="d" transform="translate(1398.73 924.1) rotate(-90) scale(1.05 1)">2</text>
<text class="d" transform="translate(1431.78 905.4) rotate(-90) scale(1.05 1)">5</text>
<text class="d" transform="translate(1464.83 871) rotate(-90) scale(1.05 1)">9</text>
<text class="d" transform="translate(1497.88 744.6) rotate(-90) scale(1.05 1)">27</text>
<text class="d" transform="translate(1530.92 620.8) rotate(-90) scale(1.05 1)">45</text>
<text class="d" transform="translate(1563.98 864.1) rotate(-90) scale(1.05 1)">10</text>
<text class="d" transform="translate(1597.02 931.8) rotate(-90) scale(1.05 1)">1</text>
<text class="d" transform="translate(1630.08 937.6) rotate(-90) scale(1.05 1)">0</text>
<text class="d" transform="translate(1663.12 937.6) rotate(-90) scale(1.05 1)">0</text>
<text class="d" transform="translate(1696.17 937.6) rotate(-90) scale(1.05 1)">0</text>
<text class="d" transform="translate(1729.23 937.6) rotate(-90) scale(1.05 1)">0</text>
<text class="d" transform="translate(1762.27 937.6) rotate(-90) scale(1.05 1)">0</text>
<text class="h" transform="translate(1047.3 601.5)" textLength="355" lengthAdjust="spacingAndGlyphs">(D) Olympic Park nighttime</text>
<text class="x" transform="translate(1356.2 1060.3)" textLength="90.2" lengthAdjust="spacingAndGlyphs">ΔT (<tspan dy="-2.5" font-size="30">°</tspan><tspan dy="2.5">C)</tspan></text>
<text class="y" transform="translate(957.4 875.8) rotate(-90)" textLength="186" lengthAdjust="spacingAndGlyphs">Frequency (%)</text>
</g>
</svg>
</body></html>
